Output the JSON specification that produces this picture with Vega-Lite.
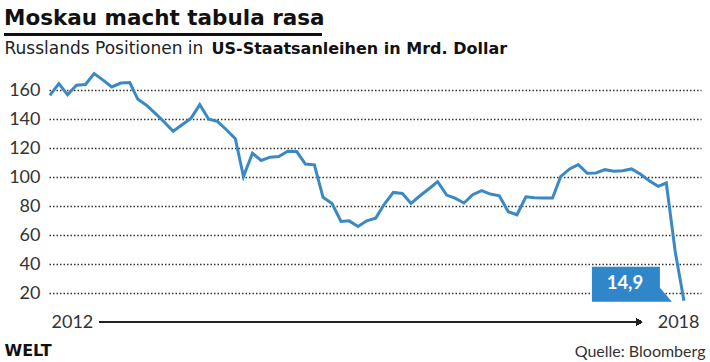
{
  "$schema": "https://vega.github.io/schema/vega-lite/v6.json",
  "autosize": {"type": "none"},
  "padding": {"left": 49, "top": 70, "right": 9, "bottom": 57},
  "width": 652,
  "height": 235,
  "background": "white",
  "title": {
    "text": "Moskau macht tabula rasa",
    "anchor": "start",
    "frame": "group",
    "dx": -45,
    "offset": 4,
    "font": "DejaVu Sans",
    "fontSize": 21.5,
    "fontWeight": "bold",
    "color": "#111111"
  },
  "config": {
    "view": {"stroke": null},
    "font": "Lato",
    "locale": {
      "number": {"decimal": ",", "thousands": ".", "grouping": [3], "currency": ["", " €"]}
    }
  },
  "data": {
    "values": [
      {"month": "2012-05-01", "value": 156.5},
      {"month": "2012-06-01", "value": 164.6},
      {"month": "2012-07-01", "value": 157.0},
      {"month": "2012-08-01", "value": 163.5},
      {"month": "2012-09-01", "value": 164.0},
      {"month": "2012-10-01", "value": 171.5},
      {"month": "2012-11-01", "value": 167.0},
      {"month": "2012-12-01", "value": 162.3},
      {"month": "2013-01-01", "value": 165.0},
      {"month": "2013-02-01", "value": 165.3},
      {"month": "2013-03-01", "value": 153.8},
      {"month": "2013-04-01", "value": 149.6},
      {"month": "2013-05-01", "value": 143.9},
      {"month": "2013-06-01", "value": 138.0},
      {"month": "2013-07-01", "value": 131.8},
      {"month": "2013-08-01", "value": 136.2},
      {"month": "2013-09-01", "value": 140.8},
      {"month": "2013-10-01", "value": 150.1},
      {"month": "2013-11-01", "value": 140.1},
      {"month": "2013-12-01", "value": 138.6},
      {"month": "2014-01-01", "value": 132.8},
      {"month": "2014-02-01", "value": 126.6},
      {"month": "2014-03-01", "value": 100.5},
      {"month": "2014-04-01", "value": 116.6},
      {"month": "2014-05-01", "value": 111.6},
      {"month": "2014-06-01", "value": 113.9},
      {"month": "2014-07-01", "value": 114.3},
      {"month": "2014-08-01", "value": 118.0},
      {"month": "2014-09-01", "value": 117.8},
      {"month": "2014-10-01", "value": 109.2},
      {"month": "2014-11-01", "value": 108.6},
      {"month": "2014-12-01", "value": 86.2},
      {"month": "2015-01-01", "value": 82.0},
      {"month": "2015-02-01", "value": 69.6},
      {"month": "2015-03-01", "value": 70.0},
      {"month": "2015-04-01", "value": 66.1},
      {"month": "2015-05-01", "value": 70.0},
      {"month": "2015-06-01", "value": 71.9},
      {"month": "2015-07-01", "value": 81.6},
      {"month": "2015-08-01", "value": 89.6},
      {"month": "2015-09-01", "value": 88.9},
      {"month": "2015-10-01", "value": 82.0},
      {"month": "2015-11-01", "value": 87.3},
      {"month": "2015-12-01", "value": 92.0},
      {"month": "2016-01-01", "value": 97.0},
      {"month": "2016-02-01", "value": 87.8},
      {"month": "2016-03-01", "value": 85.7},
      {"month": "2016-04-01", "value": 82.3},
      {"month": "2016-05-01", "value": 88.0},
      {"month": "2016-06-01", "value": 90.8},
      {"month": "2016-07-01", "value": 88.5},
      {"month": "2016-08-01", "value": 87.3},
      {"month": "2016-09-01", "value": 76.3},
      {"month": "2016-10-01", "value": 74.2},
      {"month": "2016-11-01", "value": 86.6},
      {"month": "2016-12-01", "value": 86.0},
      {"month": "2017-01-01", "value": 85.8},
      {"month": "2017-02-01", "value": 85.8},
      {"month": "2017-03-01", "value": 100.5},
      {"month": "2017-04-01", "value": 105.8},
      {"month": "2017-05-01", "value": 108.8},
      {"month": "2017-06-01", "value": 102.8},
      {"month": "2017-07-01", "value": 103.0},
      {"month": "2017-08-01", "value": 105.3},
      {"month": "2017-09-01", "value": 104.2},
      {"month": "2017-10-01", "value": 104.6},
      {"month": "2017-11-01", "value": 105.8},
      {"month": "2017-12-01", "value": 102.3},
      {"month": "2018-01-01", "value": 97.7},
      {"month": "2018-02-01", "value": 93.8},
      {"month": "2018-03-01", "value": 96.1},
      {"month": "2018-04-01", "value": 48.7},
      {"month": "2018-05-01", "value": 14.9}
    ]
  },
  "resolve": {"axis": {"x": "independent", "y": "independent"}},
  "layer": [
    {
      "mark": {"type": "line", "color": "#3a89c4", "strokeWidth": 3, "strokeJoin": "miter"},
      "encoding": {
        "x": {
          "field": "month",
          "type": "temporal",
          "scale": {"domain": [{"year": 2012, "month": 4, "date": 28}, {"year": 2018, "month": 6, "date": 29}], "nice": false},
          "axis": {
            "orient": "bottom",
            "values": [{"year": 2012, "month": 4, "date": 28}, {"year": 2018, "month": 6, "date": 29}],
            "format": "%Y",
            "labelFlush": true,
            "labelFlushOffset": -2,
            "labelFont": "Lato",
            "labelFontSize": 18,
            "labelColor": "#333333",
            "labelPadding": 8,
            "ticks": false,
            "tickSize": 0,
            "domain": false,
            "grid": false,
            "title": "Quelle: Bloomberg",
            "titleX": 656,
            "titleY": 51,
            "titleAlign": "right",
            "titleBaseline": "alphabetic",
            "titleFont": "Lato",
            "titleFontSize": 16,
            "titleFontWeight": "normal",
            "titleColor": "#333333"
          }
        },
        "y": {
          "field": "value",
          "type": "quantitative",
          "scale": {"domain": [12, 174], "nice": false, "zero": false},
          "axis": {
            "orient": "left",
            "values": [20, 40, 60, 80, 100, 120, 140, 160],
            "labelFont": "Lato",
            "labelFontSize": 18,
            "labelColor": "#333333",
            "labelPadding": 9,
            "ticks": false,
            "domain": false,
            "grid": true,
            "gridColor": "#333333",
            "gridDash": [1.5, 2],
            "gridWidth": 1.5,
            "title": "Russlands Positionen in",
            "titleAngle": 0,
            "titleAlign": "left",
            "titleBaseline": "alphabetic",
            "titleX": -45,
            "titleY": -17,
            "titleFont": "DejaVu Sans",
            "titleFontSize": 17,
            "titleFontWeight": "normal",
            "titleColor": "#222222"
          }
        }
      }
    },
    {
      "transform": [{"filter": "datum.value < 20"}],
      "mark": {
        "type": "point",
        "shape": "M-92,-34L-24,-34L-24,-13L-12,1L-92,1Z",
        "size": 4,
        "filled": true,
        "fill": "#2f86c8",
        "opacity": 1,
        "strokeWidth": 0
      },
      "encoding": {
        "x": {"field": "month", "type": "temporal", "axis": null},
        "y": {
          "field": "value",
          "type": "quantitative",
          "axis": {
            "orient": "right",
            "labels": false,
            "ticks": false,
            "domain": false,
            "grid": false,
            "title": "US-Staatsanleihen in Mrd. Dollar",
            "titleAngle": 0,
            "titleAlign": "left",
            "titleBaseline": "alphabetic",
            "titleX": -490,
            "titleY": -17,
            "titleFont": "DejaVu Sans",
            "titleFontSize": 16,
            "titleFontWeight": "bold",
            "titleColor": "#111111"
          }
        }
      }
    },
    {
      "transform": [{"filter": "datum.value < 20"}],
      "mark": {
        "type": "text",
        "font": "Lato",
        "fontSize": 18.5,
        "fontWeight": "bold",
        "color": "white",
        "align": "center",
        "baseline": "middle",
        "dx": -59,
        "dy": -18
      },
      "encoding": {
        "x": {"field": "month", "type": "temporal", "axis": null},
        "y": {"field": "value", "type": "quantitative", "axis": null},
        "text": {"field": "value", "type": "quantitative", "format": ".1f"}
      }
    },
    {
      "mark": {"type": "rule", "color": "#222222", "strokeWidth": 1.2},
      "encoding": {
        "x": {
          "datum": {"year": 2012, "month": 10, "date": 21},
          "type": "temporal",
          "axis": {
            "orient": "top",
            "labels": false,
            "ticks": false,
            "domain": false,
            "grid": false,
            "title": "WELT",
            "titleX": -45,
            "titleY": 285,
            "titleAlign": "left",
            "titleBaseline": "alphabetic",
            "titleFont": "DejaVu Sans",
            "titleFontSize": 16,
            "titleFontWeight": "bold",
            "titleColor": "#111111"
          }
        },
        "x2": {"datum": {"year": 2017, "month": 11, "date": 20}},
        "y": {"datum": 0.3, "type": "quantitative", "axis": null}
      }
    },
    {
      "mark": {"type": "point", "shape": "triangle-right", "size": 40, "filled": true, "color": "#222222", "opacity": 1},
      "encoding": {
        "x": {"datum": {"year": 2017, "month": 11, "date": 28}, "type": "temporal", "axis": null},
        "y": {"datum": 0.3, "type": "quantitative", "axis": null}
      }
    },
    {
      "mark": {"type": "rule", "color": "#111111", "strokeWidth": 2.4},
      "encoding": {
        "x": {"datum": {"year": 2011, "month": 11, "date": 25}, "type": "temporal", "axis": null},
        "x2": {"datum": {"year": 2014, "month": 11, "date": 27}},
        "y": {"datum": 198.5, "type": "quantitative", "axis": null}
      }
    }
  ]
}
